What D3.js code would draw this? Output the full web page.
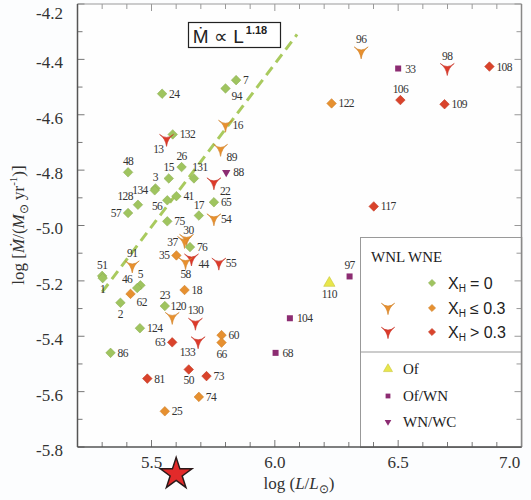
<!DOCTYPE html>
<html><head><meta charset="utf-8">
<script src="https://cdn.jsdelivr.net/npm/d3@7"></script>
<style>
html,body{margin:0;padding:0;background:#fcfdfe;}
svg{display:block;}
</style></head>
<body>
<svg id="chart" width="531" height="500"></svg>
<script>
// ---- data ----
const starIds = ["7","94","24","16","132","13","89","48","26","15","131","88","22","3","134","56","41","128","57","65","17","54","75","30","37","76","35","44","58","55","51","1","91","5","46","62","18","2","23","120","130","104","124","60","66","63","133","86","68","50","81","73","74","25","96","33","98","108","122","106","109","117","110","97"];
const logL = [5.843,5.800,5.543,5.800,5.586,5.561,5.780,5.405,5.622,5.570,5.672,5.803,5.753,5.516,5.513,5.564,5.601,5.445,5.405,5.753,5.692,5.753,5.564,5.642,5.634,5.656,5.601,5.662,5.638,5.773,5.300,5.302,5.422,5.455,5.442,5.415,5.634,5.374,5.554,5.584,5.678,6.061,5.453,5.784,5.784,5.584,5.689,5.334,6.003,5.651,5.483,5.723,5.692,5.554,6.350,6.500,6.699,6.870,6.230,6.509,6.688,6.401,6.221,6.303];
const logMdot = [-4.475,-4.505,-4.524,-4.638,-4.671,-4.689,-4.725,-4.808,-4.789,-4.830,-4.830,-4.808,-4.846,-4.866,-4.873,-4.909,-4.894,-4.925,-4.955,-4.916,-4.964,-4.976,-4.985,-5.050,-5.058,-5.078,-5.108,-5.121,-5.134,-5.136,-5.182,-5.190,-5.146,-5.216,-5.226,-5.247,-5.233,-5.279,-5.291,-5.332,-5.353,-5.335,-5.371,-5.396,-5.423,-5.422,-5.420,-5.460,-5.460,-5.520,-5.553,-5.544,-5.619,-5.671,-4.373,-4.433,-4.433,-4.426,-4.559,-4.547,-4.562,-4.931,-5.208,-5.184];
const starType = ["WNE","WNE","WNE","WNL","WNE","WNL","WNL","WNE","WNE","WNE","WNE","WNWC","WNL","WNE","WNE","WNE","WNE","WNE","WNE","WNE","WNE","WNL","WNE","WNL","WNL","WNE","WNE","WNL","WNL","WNL","WNE","WNE","WNL","WNE","WNE","WNE","WNE","WNE","WNE","WNL","WNL","OfWN","WNE","WNE","WNE","WNE","WNL","WNE","OfWN","WNE","WNE","WNE","WNE","WNE","WNL","OfWN","WNL","WNE","WNE","WNE","WNE","WNE","Of","OfWN"];
const hydrogen = ["h0","h0","h0","hlo","h0","hhi","hlo","h0","h0","h0","h0","-","hhi","h0","h0","h0","h0","h0","h0","h0","h0","hlo","h0","hlo","hlo","h0","hlo","hhi","hlo","hhi","h0","h0","hlo","h0","h0","hlo","hlo","h0","h0","hlo","hhi","-","h0","hlo","hlo","hhi","hhi","h0","-","hhi","hhi","hhi","hlo","hlo","hlo","-","hhi","hhi","hlo","hhi","hhi","hhi","-","-"];
const labelSide = ["r","rb","r","r","r","lb","rb","t","t","t","tr","r","rb","t","l","lm","r","lt","l","r","t","r","r","tc","l","r","l","r2","b","r","t","b","t","t","lt","rb","r","b","t","tr","t","r","r","r","b","l","lb","r","r","b","r","r","r","r","t","r","t","r","r","t","r","r","b","t"];
const trendL = [5.30, 6.09];
const trendMdot = [-5.24, -4.31];
const sunL = [5.6];
const xTicks = [5.5, 6.0, 6.5, 7.0];
const yTicks = [-5.8, -5.6, -5.4, -5.2, -5.0, -4.8, -4.6, -4.4, -4.2];
const legendRows = ["= 0", "\u2264 0.3", "> 0.3"];
const legendRowH = ["h0", "hlo", "hhi"];
const legendTypes = ["Of", "OfWN", "WNWC"];
const legendTypeText = ["Of", "Of/WN", "WN/WC"];

// ---- layout ----
const svg = d3.select("#chart");
const L = 77.5, R = 521.5, T = 4, B = 447;
const x = d3.scaleLinear().domain([5.2, 7.0]).range([L, R]);
const y = d3.scaleLinear().domain([-5.8, -4.2]).range([B, T]);
const colors = {h0: "#9fc45f", hlo: "#e69030", hhi: "#d9432b"};
const wnlColors = {hlo: "#e8902e", hhi: "#dd3a2a"};
const purple = "#8c2c72";
const serif = "'Liberation Serif','Times New Roman',serif";
const sans = "'Liberation Sans',Arial,sans-serif";

svg.append("rect").attr("width", 531).attr("height", 500).attr("fill", "#fcfdfe");
svg.append("rect").attr("x", L).attr("y", T).attr("width", R - L).attr("height", B - T).attr("fill", "#fefefe");

// ticks (inward, all sides)
const g = svg.append("g");
const minorX = d3.range(5.2, 7.001, 0.1);
const minorY = d3.range(-5.8, -4.199, 0.1);
minorX.forEach(v => {
  const major = Math.abs(v * 2 - Math.round(v * 2)) < 1e-6;
  const len = major ? 7 : 5;
  g.append("line").attr("x1", x(v)).attr("x2", x(v)).attr("y1", B).attr("y2", B - len).attr("stroke", "#777").attr("stroke-width", 1);
  g.append("line").attr("x1", x(v)).attr("x2", x(v)).attr("y1", T).attr("y2", T + len).attr("stroke", "#999").attr("stroke-width", 1);
});
minorY.forEach(v => {
  const major = Math.abs(v * 5 - Math.round(v * 5)) < 1e-6;
  const len = major ? 7 : 5;
  g.append("line").attr("y1", y(v)).attr("y2", y(v)).attr("x1", L).attr("x2", L + len).attr("stroke", "#777").attr("stroke-width", 1);
  g.append("line").attr("y1", y(v)).attr("y2", y(v)).attr("x1", R).attr("x2", R - len).attr("stroke", "#999").attr("stroke-width", 1);
});
// spines
svg.append("line").attr("x1", L).attr("x2", R).attr("y1", T).attr("y2", T).attr("stroke", "#999").attr("stroke-width", 1.2);
svg.append("line").attr("x1", R).attr("x2", R).attr("y1", T).attr("y2", B).attr("stroke", "#888").attr("stroke-width", 1.5);
svg.append("line").attr("x1", L).attr("x2", L).attr("y1", T).attr("y2", B).attr("stroke", "#555").attr("stroke-width", 1.5);
svg.append("line").attr("x1", L).attr("x2", R).attr("y1", B).attr("y2", B).attr("stroke", "#555").attr("stroke-width", 1.5);

// tick labels
svg.append("g").selectAll("text").data(xTicks).join("text")
  .attr("x", d => d === 7.0 ? x(d) - 12 : x(d)).attr("y", 468)
  .attr("text-anchor", "middle").attr("font-family", serif).attr("font-size", 17).attr("fill", "#333")
  .text(d => d3.format(".1f")(d));
svg.append("g").selectAll("text").data(yTicks).join("text")
  .attr("x", 63).attr("y", d => (d === -4.2 ? y(d) + 9 : y(d) + 3))
  .attr("dy", "0.35em").attr("text-anchor", "end").attr("font-family", serif).attr("font-size", 17).attr("fill", "#333")
  .text(d => d3.format(".1f")(d).replace("\u2212", "-"));

// axis titles
const xt = svg.append("text").attr("x", 299).attr("y", 489).attr("text-anchor", "middle")
  .attr("font-family", serif).attr("font-size", 17).attr("fill", "#333");
xt.append("tspan").text("log (");
xt.append("tspan").attr("font-style", "italic").text("L");
xt.append("tspan").text("/");
xt.append("tspan").attr("font-style", "italic").text("L");
xt.append("tspan").attr("font-size", 12).attr("dy", 4).text("\u2299");
xt.append("tspan").attr("dy", -4).text(")");

const yt = svg.append("text").attr("transform", "translate(24,225) rotate(-90)").attr("text-anchor", "middle")
  .attr("font-family", serif).attr("font-size", 17).attr("fill", "#333");
yt.append("tspan").text("log [");
yt.append("tspan").attr("font-style", "italic").text("\u1E40");
yt.append("tspan").text("/(");
yt.append("tspan").attr("font-style", "italic").text("M");
yt.append("tspan").attr("font-size", 12).attr("dy", 4).text("\u2299");
yt.append("tspan").attr("dy", -4).text(" yr");
yt.append("tspan").attr("font-size", 11).attr("dy", -7).text("-1");
yt.append("tspan").attr("dy", 7).text(")]");

// trend line
svg.append("line").attr("x1", x(trendL[0])).attr("y1", y(trendMdot[0])).attr("x2", x(trendL[1])).attr("y2", y(trendMdot[1]))
  .attr("stroke", "#a9ca5e").attr("stroke-width", 3).attr("stroke-dasharray", "10,6");

// annotation box
svg.append("rect").attr("x", 188.5).attr("y", 22.5).attr("width", 92).attr("height", 25).attr("fill", "#fff").attr("stroke", "#222").attr("stroke-width", 1.2);
const ann = svg.append("text").attr("x", 230).attr("y", 43).attr("text-anchor", "middle").attr("font-family", sans).attr("font-size", 19).attr("fill", "#222");
ann.append("tspan").text("\u1E40 \u221D L");
ann.append("tspan").attr("font-size", 11).attr("font-weight", "bold").attr("dy", -9).attr("dx", 2).text("1.18");

// marker shapes
function wnlPath(s) {
  return `M${-7*s},${-5*s} Q0,${1*s} ${7*s},${-5*s} Q${1.2*s},${-1*s} 0,${7*s} Q${-1.2*s},${-1*s} ${-7*s},${-5*s} Z`;
}
function drawMarker(sel, type, h, cx, cy, scale) {
  scale = scale || 1;
  if (type === "WNE") {
    sel.append("path").attr("d", d3.symbol(d3.symbolDiamond2, 58 * scale * scale)())
      .attr("transform", `translate(${cx},${cy})`).attr("fill", colors[h]).attr("stroke", d3.color(colors[h]).darker(0.3)).attr("stroke-width", 0.6);
  } else if (type === "WNL") {
    sel.append("path").attr("d", wnlPath(scale)).attr("transform", `translate(${cx},${cy})`)
      .attr("fill", wnlColors[h]).attr("stroke", d3.color(wnlColors[h]).darker(0.3)).attr("stroke-width", 0.6);
  } else if (type === "OfWN") {
    const s = 6 * scale;
    sel.append("rect").attr("x", cx - s / 2).attr("y", cy - s / 2).attr("width", s).attr("height", s).attr("fill", purple);
  } else if (type === "WNWC") {
    sel.append("path").attr("d", d3.symbol(d3.symbolTriangle, 30 * scale * scale)())
      .attr("transform", `translate(${cx},${cy}) rotate(180)`).attr("fill", purple);
  } else if (type === "Of") {
    sel.append("path").attr("d", d3.symbol(d3.symbolTriangle, 55 * scale * scale)())
      .attr("transform", `translate(${cx},${cy})`).attr("fill", "#e8e64c").attr("stroke", "#c9c63a").attr("stroke-width", 0.6);
  }
}

const pts = svg.append("g");
starIds.forEach((id, i) => {
  drawMarker(pts, starType[i], hydrogen[i], x(logL[i]), y(logMdot[i]), 1);
});

// labels
const offs = {
  r: [7, 4, "start"], r2: [7, 9, "start"], l: [-7, 4, "end"], t: [0, -7, "middle"], b: [0, 15, "middle"],
  rb: [6, 12, "start"], lb: [-3, 14, "end"], lm: [-5, 10, "end"], lt: [-5, -5, "end"], tr: [6, -7, "middle"],
  tc: [2, -5, "middle"]
};
const lab = svg.append("g").attr("font-family", serif).attr("font-size", 11.5).attr("fill", "#333").attr("letter-spacing", "-0.6");
starIds.forEach((id, i) => {
  const o = offs[labelSide[i]];
  let dx = o[0], dy = o[1];
  if (starType[i] === "WNL" && (labelSide[i] === "t")) dy -= 2;
  lab.append("text").attr("x", x(logL[i]) + dx).attr("y", y(logMdot[i]) + dy).attr("text-anchor", o[2]).text(id);
});

// legend
const lg = svg.append("g");
lg.append("rect").attr("x", 360.5).attr("y", 237.5).attr("width", R - 360.5).attr("height", B - 237.5).attr("fill", "#fff").attr("stroke", "#999").attr("stroke-width", 1);
lg.append("line").attr("x1", 360.5).attr("x2", R).attr("y1", 352).attr("y2", 352).attr("stroke", "#999").attr("stroke-width", 1);
// re-draw ticks over legend
minorY.filter(v => y(v) > 238 && y(v) < B - 2).forEach(v => {
  const major = Math.abs(v * 5 - Math.round(v * 5)) < 1e-6;
  lg.append("line").attr("y1", y(v)).attr("y2", y(v)).attr("x1", R).attr("x2", R - (major ? 7 : 5)).attr("stroke", "#999");
});
minorX.filter(v => x(v) > 361 && x(v) < R - 2).forEach(v => {
  const major = Math.abs(v * 2 - Math.round(v * 2)) < 1e-6;
  lg.append("line").attr("x1", x(v)).attr("x2", x(v)).attr("y1", B).attr("y2", B - (major ? 7 : 5)).attr("stroke", "#777");
});
lg.append("line").attr("x1", R).attr("x2", R).attr("y1", 237).attr("y2", B).attr("stroke", "#888").attr("stroke-width", 1.5);
lg.append("line").attr("x1", 360).attr("x2", R).attr("y1", B).attr("y2", B).attr("stroke", "#555").attr("stroke-width", 1.5);

lg.append("text").attr("x", 371).attr("y", 262).attr("font-family", serif).attr("font-size", 15).attr("fill", "#222").text("WNL  WNE");
const rowY = [283, 308, 332];
legendRows.forEach((t, i) => {
  if (i > 0) drawMarker(lg, "WNL", legendRowH[i], 388, rowY[i], 0.95);
  drawMarker(lg, "WNE", legendRowH[i], 432, rowY[i], 0.75);
  const tx = lg.append("text").attr("x", 448).attr("y", rowY[i] + 6).attr("font-family", sans).attr("font-size", 16).attr("fill", "#222");
  tx.append("tspan").text("X");
  tx.append("tspan").attr("font-size", 10).attr("dy", 3).text("H");
  tx.append("tspan").attr("dy", -3).attr("dx", 4).text(t);
});
const row2Y = [369, 396, 422];
legendTypes.forEach((t, i) => {
  drawMarker(lg, t, "-", 388, row2Y[i], 0.8);
  lg.append("text").attr("x", 403).attr("y", row2Y[i] + 5).attr("font-family", serif).attr("font-size", 15).attr("fill", "#222").text(legendTypeText[i]);
});

// sun-like star below axis
svg.append("path").attr("d", d3.symbol(d3.symbolStar, 310)())
  .attr("transform", `translate(${x(sunL[0])},474)`).attr("fill", "#e22a2a").attr("stroke", "#2a1a1a").attr("stroke-width", 1.5).attr("stroke-linejoin", "miter");
</script>
</body></html>
